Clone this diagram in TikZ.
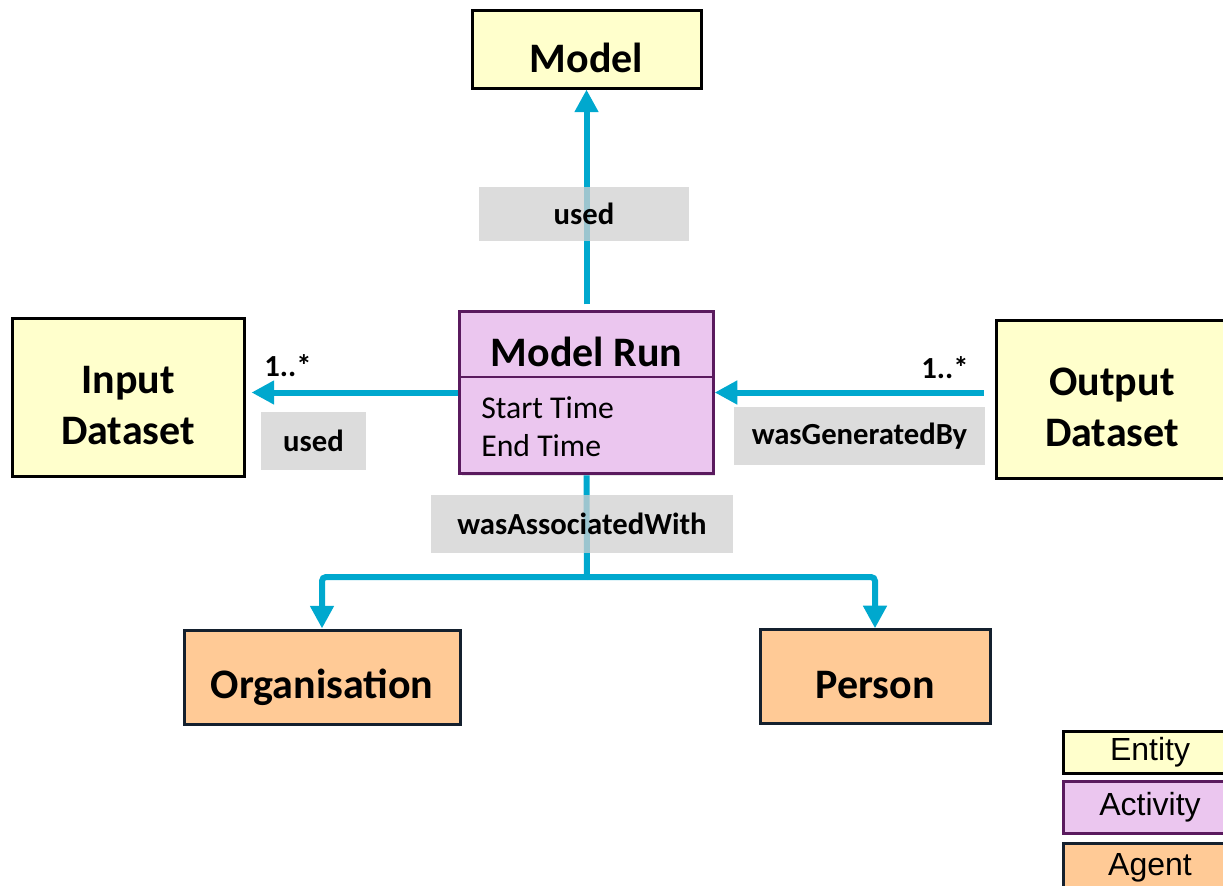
\documentclass[tikz,border=0pt]{standalone}
\usepackage{fontspec}
\setmainfont{Carlito}
\newfontfamily\legendfont{Liberation Sans}
\usetikzlibrary{arrows.meta,shadows}

\definecolor{entityfill}{HTML}{FFFFCC}
\definecolor{activityfill}{HTML}{EBC6EF}
\definecolor{activitydraw}{HTML}{5A1A5E}
\definecolor{agentfill}{HTML}{FFCA96}
\definecolor{agentdraw}{HTML}{14202E}
\definecolor{labelgray}{HTML}{D0D0D0}
\definecolor{flowcyan}{HTML}{00A8CE}

\begin{document}
\begin{tikzpicture}[
    x=0.75pt,
    y=-0.75pt,
    >={Triangle[length=17pt,width=17pt]},
    box/.style={
      draw,
      line width=2.25pt,
      inner sep=0pt,
      align=center,
      drop shadow={opacity=0.18,shadow xshift=1.5pt,shadow yshift=-1.5pt}
    },
    entity/.style={box,fill=entityfill,draw=black},
    activity/.style={box,fill=activityfill,draw=activitydraw},
    agent/.style={box,fill=agentfill,draw=agentdraw},
    titletext/.style={
      inner sep=0pt,
      align=center,
      font=\fontsize{31.5pt}{38pt}\selectfont\bfseries
    },
    legend/.style={
      minimum width=130.5pt,
      font=\legendfont\fontsize{24pt}{28pt}\selectfont
    },
    flow/.style={
      ->,
      draw=flowcyan,
      line width=4.5pt
    },
    relation/.style={
      fill=labelgray,
      fill opacity=0.75,
      text opacity=1,
      inner sep=0pt,
      font=\fontsize{23pt}{28pt}\selectfont\bfseries
    },
    mult/.style={
      inner sep=0pt,
      font=\fontsize{23pt}{27pt}\selectfont\bfseries
    }
  ]
    \useasboundingbox (0,0) rectangle (1223,885);

    \node[entity,minimum width=171.75pt,minimum height=58.5pt,
      label={[titletext,yshift=-6.5pt,name=modeltitle]center:Model}] (model) at (586.5,49) {};
    \node[entity,minimum width=174pt,minimum height=118.5pt,
      label={[titletext,yshift=-6.5pt,name=inputtitle]center:Input\\Dataset}] (input) at (128,397) {};
    \node[entity,minimum width=174pt,minimum height=118.5pt,
      label={[titletext,yshift=-6.5pt,name=outputtitle]center:Output\\Dataset}] (output) at (1112,399) {};
    \node[agent,minimum width=207pt,minimum height=70.5pt,
      label={[titletext,yshift=-8pt,name=orgtitle]center:Organisation}] (org) at (322,677) {};
    \node[agent,minimum width=172.5pt,minimum height=70pt,
      label={[titletext,yshift=-6.5pt,name=persontitle]center:Person}] (person) at (875,676.5) {};

    % activity box with its attributes
    \node[activity,minimum width=190pt,minimum height=122pt] (run) at (586.5,392.5) {};
    \draw[activitydraw,line width=1.5pt] (run.west |- 0,377) -- (run.east |- 0,377);
    \node[titletext] (runname) at (586.5,352) {Model Run};
    \node[anchor=west,align=left,inner sep=0pt,
      font=\fontsize{23.8pt}{28.5pt}\selectfont] (runattr) at (481,427) {Start Time\\End Time};

    \coordinate (split) at (587,577);

    \draw[flow,shorten <=4pt] (run.north) -- (model.south);
    \draw[flow,shorten >=4.5pt] (run.west) -- (input.east |- run.west);
    \draw[flow,shorten <=8pt] (output.west |- run.east) -- (run.east);
    \draw[flow,-] (run.south) -- (split);
    \draw[flow,rounded corners=3pt] (split) -| (org.north);
    \draw[flow,rounded corners=3pt] (split) -| (person.north);

    \node[relation,minimum width=157.5pt,minimum height=40.5pt] (usedmodel) at (584,214) {used};
    \node[relation,minimum width=78.75pt,minimum height=43.5pt] (usedinput) at (313.5,441) {used};
    \node[relation,minimum width=188pt,minimum height=43.5pt] (generated) at (859.5,436) {wasGeneratedBy};
    \node[relation,minimum width=226.5pt,minimum height=43.5pt] (associated) at (582,524) {wasAssociatedWith};

    \node[mult] (multin) at (288,366) {1..*};
    \node[mult] (multout) at (945,368) {1..*};

    \foreach \name/\y/\h/\kind in {Entity/752/42/entity,Activity/807/52/activity,Agent/868/50/agent}
      \node[\kind,legend,minimum height=\h*0.75pt] (leg\name) at (1150,\y) {\name};
  \end{tikzpicture}
\end{document}
